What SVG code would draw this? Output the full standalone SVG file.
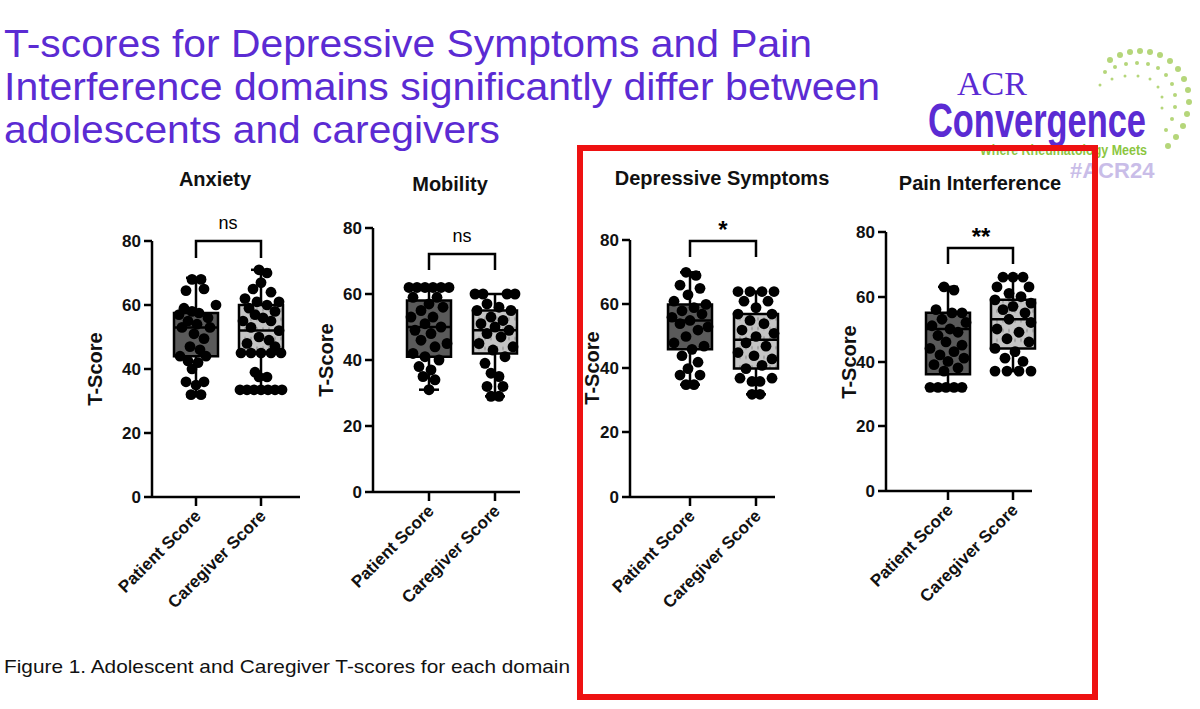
<svg xmlns="http://www.w3.org/2000/svg" width="1200" height="709" viewBox="0 0 1200 709">
<style>
.t{font-family:"Liberation Sans",Arial,sans-serif;font-weight:bold;fill:#111}
.tk{font-size:17px;text-anchor:end}
.ct{font-size:20px;text-anchor:middle}
.yl{font-size:20px;text-anchor:middle}
.xl{font-size:17px;text-anchor:end}
.ax{stroke:#000;stroke-width:2.5;fill:none}
.bx line,.bx rect{vector-effect:non-scaling-stroke;stroke:#000;stroke-width:2.5}
.p rect{fill:#5a5a5a}
.c rect{fill:url(#dots)}
.bx ellipse{fill:#000;rx:5.4px;ry:1.67px}
.title{font-family:"Liberation Sans",Arial,sans-serif;font-size:38px;fill:#5b2bd3}
</style>
<defs>
<pattern id="dots" width="6" height="3" patternUnits="userSpaceOnUse"><rect width="6" height="3" fill="#c4c4c4"/><circle cx="2" cy="1.5" r="0.6" fill="#888"/></pattern>
</defs>
<rect width="1200" height="709" fill="#fff"/>
<g id="title">
<text class="title" x="4" y="57" textLength="808" lengthAdjust="spacingAndGlyphs">T-scores for Depressive Symptoms and Pain</text>
<text class="title" x="4" y="100" textLength="876" lengthAdjust="spacingAndGlyphs">Interference domains significantly differ between</text>
<text class="title" x="4" y="143" textLength="496" lengthAdjust="spacingAndGlyphs">adolescents and caregivers</text>
</g>
<g id="logo">
<g fill="#b5d67a">
<circle cx="1110" cy="60" r="3"/><circle cx="1120" cy="55" r="3"/><circle cx="1130" cy="52" r="3"/><circle cx="1140" cy="51" r="3"/><circle cx="1150" cy="52" r="3"/><circle cx="1160" cy="55" r="3"/><circle cx="1170" cy="61" r="3"/><circle cx="1178" cy="69" r="3"/><circle cx="1184" cy="79" r="3"/><circle cx="1188" cy="90" r="3"/><circle cx="1189" cy="102" r="3"/><circle cx="1187" cy="114" r="3"/><circle cx="1183" cy="126" r="3"/><circle cx="1176" cy="137" r="3"/><circle cx="1168" cy="146" r="3"/>
<circle cx="1105" cy="72" r="2"/><circle cx="1115" cy="67" r="2"/><circle cx="1126" cy="64" r="2"/><circle cx="1137" cy="63" r="2"/><circle cx="1148" cy="64" r="2"/><circle cx="1158" cy="68" r="2"/><circle cx="1166" cy="75" r="2"/><circle cx="1172" cy="84" r="2"/><circle cx="1175" cy="95" r="2"/><circle cx="1175" cy="107" r="2"/><circle cx="1172" cy="119" r="2"/><circle cx="1166" cy="130" r="2"/>
<circle cx="1100" cy="85" r="1.5"/><circle cx="1112" cy="79" r="1.5"/><circle cx="1125" cy="76" r="1.5"/><circle cx="1138" cy="76" r="1.5"/><circle cx="1150" cy="79" r="1.5"/><circle cx="1158" cy="87" r="1.5"/><circle cx="1162" cy="97" r="1.5"/><circle cx="1162" cy="108" r="1.5"/>
</g>
<text x="957" y="95" font-family="Liberation Serif,serif" font-size="34" fill="#5b2bd3">ACR</text>
<text x="928" y="137" font-family="Liberation Sans Narrow,Liberation Sans,sans-serif" font-weight="bold" font-size="48" fill="#5b2bd3" textLength="218" lengthAdjust="spacingAndGlyphs">Convergence</text>
<text x="980" y="155" font-family="Liberation Sans,sans-serif" font-weight="bold" font-size="14" fill="#8cc63f" textLength="167" lengthAdjust="spacingAndGlyphs">Where Rheumatology Meets</text>
<text x="1070" y="178" font-family="Liberation Sans,sans-serif" font-weight="bold" font-size="22" fill="#c9bde8">#ACR24</text>
</g>
<rect id="highlight" x="580" y="148" width="515" height="549" fill="none" stroke="#ee1111" stroke-width="6"/>

<g id="chart-anxiety">
<text class="t ct" x="215" y="186">Anxiety</text>
<path class="ax" d="M152,241 V497 H300 M144,241 H152 M144,305 H152 M144,369 H152 M144,433 H152 M144,497 H152 M196,497 V506 M261,497 V506"/>
<g class="t tk"><text x="141" y="247">80</text><text x="141" y="311">60</text><text x="141" y="375">40</text><text x="141" y="439">20</text><text x="141" y="503">0</text></g>
<text class="t yl" transform="translate(102,369) rotate(-90)">T-Score</text>
<path class="ax" d="M196,258 V241 H261 V258" stroke-width="2"/>
<text x="228" y="229" font-family="Liberation Sans,sans-serif" font-size="18" text-anchor="middle">ns</text>
<g class="bx p" transform="translate(196,497) scale(1,-3.2)">
<line x1="0" x2="0" y1="31.5" y2="68.5"/><line x1="-10" x2="10" y1="31.5" y2="31.5"/><line x1="-10" x2="10" y1="68.5" y2="68.5"/>
<rect x="-22" y="44" width="44" height="13.5"/><line x1="-22" x2="22" y1="53" y2="53"/>
<ellipse cx="-4" cy="68"/><ellipse cx="5" cy="68"/><ellipse cx="-10" cy="64.5"/><ellipse cx="8" cy="65"/><ellipse cx="20" cy="60"/><ellipse cx="-12" cy="59"/><ellipse cx="-4" cy="58"/><ellipse cx="3" cy="57.5"/><ellipse cx="-17" cy="57"/><ellipse cx="12" cy="56"/><ellipse cx="-8" cy="55"/><ellipse cx="1" cy="54"/><ellipse cx="-14" cy="53"/><ellipse cx="14" cy="53"/><ellipse cx="-2" cy="51"/><ellipse cx="8" cy="49.5"/><ellipse cx="-6" cy="47"/><ellipse cx="4" cy="46"/><ellipse cx="-16" cy="44"/><ellipse cx="10" cy="44"/><ellipse cx="-8" cy="42.5"/><ellipse cx="2" cy="42"/><ellipse cx="-4" cy="40"/><ellipse cx="-10" cy="36"/><ellipse cx="8" cy="36"/><ellipse cx="0" cy="35"/><ellipse cx="-5" cy="32"/><ellipse cx="5" cy="32"/>
</g>
<g class="bx c" transform="translate(261,497) scale(1,-3.2)">
<line x1="0" x2="0" y1="33.5" y2="71"/><line x1="-10" x2="10" y1="33.5" y2="33.5"/><line x1="-10" x2="10" y1="71" y2="71"/>
<rect x="-22" y="45" width="44" height="15"/><line x1="-22" x2="22" y1="52" y2="52"/>
<ellipse cx="-2" cy="71"/><ellipse cx="6" cy="70"/><ellipse cx="0" cy="67"/><ellipse cx="-8" cy="65"/><ellipse cx="10" cy="64"/><ellipse cx="-16" cy="62"/><ellipse cx="-4" cy="61"/><ellipse cx="18" cy="61"/><ellipse cx="6" cy="60"/><ellipse cx="-12" cy="59"/><ellipse cx="14" cy="58"/><ellipse cx="-6" cy="57"/><ellipse cx="2" cy="56"/><ellipse cx="-18" cy="55"/><ellipse cx="10" cy="55"/><ellipse cx="-10" cy="53"/><ellipse cx="18" cy="52"/><ellipse cx="-2" cy="50"/><ellipse cx="8" cy="49"/><ellipse cx="-14" cy="48"/><ellipse cx="14" cy="47"/><ellipse cx="-20" cy="45"/><ellipse cx="-10" cy="45"/><ellipse cx="0" cy="45"/><ellipse cx="10" cy="45"/><ellipse cx="20" cy="45"/><ellipse cx="-6" cy="39"/><ellipse cx="-2" cy="37.5"/><ellipse cx="6" cy="37.5"/><ellipse cx="-21" cy="33.5"/><ellipse cx="-14" cy="33.5"/><ellipse cx="-7" cy="33.5"/><ellipse cx="0" cy="33.5"/><ellipse cx="7" cy="33.5"/><ellipse cx="14" cy="33.5"/><ellipse cx="21" cy="33.5"/>
</g>
<text class="t xl" transform="translate(202,517) rotate(-45)">Patient Score</text>
<text class="t xl" transform="translate(267,517) rotate(-45)">Caregiver Score</text>
</g>

<g id="chart-mobility">
<text class="t ct" x="450" y="191">Mobility</text>
<path class="ax" d="M373,228 V492 H520 M365,228 H373 M365,294 H373 M365,360 H373 M365,426 H373 M365,492 H373 M429,492 V501 M495,492 V501"/>
<g class="t tk"><text x="362" y="234">80</text><text x="362" y="300">60</text><text x="362" y="366">40</text><text x="362" y="432">20</text><text x="362" y="498">0</text></g>
<text class="t yl" transform="translate(333,360) rotate(-90)">T-Score</text>
<path class="ax" d="M429,270 V254 H495 V270" stroke-width="2"/>
<text x="462" y="242" font-family="Liberation Sans,sans-serif" font-size="18" text-anchor="middle">ns</text>
<g class="bx p" transform="translate(429,492) scale(1,-3.3)">
<line x1="0" x2="0" y1="31" y2="62"/><line x1="-10" x2="10" y1="31" y2="31"/><line x1="-10" x2="10" y1="62" y2="62"/>
<rect x="-22" y="41" width="44" height="17"/><line x1="-22" x2="22" y1="50" y2="50"/>
<ellipse cx="-20" cy="62"/><ellipse cx="-12" cy="62"/><ellipse cx="-4" cy="62"/><ellipse cx="4" cy="62"/><ellipse cx="12" cy="62"/><ellipse cx="20" cy="62"/><ellipse cx="-16" cy="59"/><ellipse cx="8" cy="59"/><ellipse cx="0" cy="57"/><ellipse cx="14" cy="56"/><ellipse cx="-8" cy="55"/><ellipse cx="-18" cy="53"/><ellipse cx="4" cy="53"/><ellipse cx="-4" cy="51"/><ellipse cx="12" cy="50"/><ellipse cx="-14" cy="49"/><ellipse cx="2" cy="48"/><ellipse cx="-8" cy="46"/><ellipse cx="18" cy="45"/><ellipse cx="6" cy="44"/><ellipse cx="-16" cy="42"/><ellipse cx="-4" cy="41"/><ellipse cx="10" cy="40"/><ellipse cx="-10" cy="38"/><ellipse cx="2" cy="37"/><ellipse cx="-6" cy="35"/><ellipse cx="6" cy="34"/><ellipse cx="0" cy="31"/>
</g>
<g class="bx c" transform="translate(495,492) scale(1,-3.3)">
<line x1="0" x2="0" y1="29" y2="60"/><line x1="-10" x2="10" y1="29" y2="29"/><line x1="-10" x2="10" y1="60" y2="60"/>
<rect x="-22" y="42" width="44" height="13"/><line x1="-22" x2="22" y1="49" y2="49"/>
<ellipse cx="-20" cy="60"/><ellipse cx="-12" cy="60"/><ellipse cx="12" cy="60"/><ellipse cx="20" cy="60"/><ellipse cx="-8" cy="57"/><ellipse cx="4" cy="56"/><ellipse cx="-18" cy="55"/><ellipse cx="16" cy="55"/><ellipse cx="-4" cy="53"/><ellipse cx="8" cy="52"/><ellipse cx="-14" cy="51"/><ellipse cx="0" cy="50"/><ellipse cx="14" cy="49"/><ellipse cx="-8" cy="48"/><ellipse cx="6" cy="47"/><ellipse cx="-16" cy="45"/><ellipse cx="18" cy="44"/><ellipse cx="-2" cy="43"/><ellipse cx="10" cy="41"/><ellipse cx="-10" cy="39"/><ellipse cx="-4" cy="36"/><ellipse cx="4" cy="35"/><ellipse cx="-8" cy="32"/><ellipse cx="8" cy="32"/><ellipse cx="-4" cy="29"/><ellipse cx="4" cy="29"/>
</g>
<text class="t xl" transform="translate(435,512) rotate(-45)">Patient Score</text>
<text class="t xl" transform="translate(501,512) rotate(-45)">Caregiver Score</text>
</g>

<g id="chart-depressive">
<text class="t ct" x="722" y="185">Depressive Symptoms</text>
<path class="ax" d="M630,240 V497 H775 M622,240 H630 M622,304 H630 M622,368 H630 M622,432 H630 M622,497 H630 M690,497 V506 M756,497 V506"/>
<g class="t tk"><text x="619" y="246">80</text><text x="619" y="310">60</text><text x="619" y="374">40</text><text x="619" y="438">20</text><text x="619" y="503">0</text></g>
<text class="t yl" transform="translate(599,368) rotate(-90)">T-Score</text>
<path class="ax" d="M690,257 V241 H756 V257" stroke-width="2"/>
<text x="723" y="238" font-family="Liberation Sans,sans-serif" font-size="24" font-weight="bold" text-anchor="middle">*</text>
<g class="bx p" transform="translate(690,497) scale(1,-3.21)">
<line x1="0" x2="0" y1="35" y2="70"/><line x1="-10" x2="10" y1="35" y2="35"/><line x1="-10" x2="10" y1="70" y2="70"/>
<rect x="-22" y="46" width="44" height="14"/><line x1="-22" x2="22" y1="55" y2="55"/>
<ellipse cx="-4" cy="70"/><ellipse cx="6" cy="69"/><ellipse cx="-10" cy="66"/><ellipse cx="10" cy="65"/><ellipse cx="-2" cy="63"/><ellipse cx="-16" cy="61"/><ellipse cx="16" cy="60"/><ellipse cx="4" cy="59"/><ellipse cx="-8" cy="58"/><ellipse cx="12" cy="57"/><ellipse cx="-18" cy="56"/><ellipse cx="0" cy="55"/><ellipse cx="-10" cy="54"/><ellipse cx="18" cy="53"/><ellipse cx="8" cy="52"/><ellipse cx="-4" cy="50"/><ellipse cx="-16" cy="48"/><ellipse cx="14" cy="47"/><ellipse cx="2" cy="46"/><ellipse cx="-8" cy="44"/><ellipse cx="8" cy="42"/><ellipse cx="-2" cy="40"/><ellipse cx="-10" cy="38"/><ellipse cx="10" cy="38"/><ellipse cx="-4" cy="35"/><ellipse cx="4" cy="35"/>
</g>
<g class="bx c" transform="translate(756,497) scale(1,-3.21)">
<line x1="0" x2="0" y1="32" y2="64"/><line x1="-10" x2="10" y1="32" y2="32"/><line x1="-10" x2="10" y1="64" y2="64"/>
<rect x="-22" y="40" width="44" height="17"/><line x1="-22" x2="22" y1="49" y2="49"/>
<ellipse cx="-18" cy="64"/><ellipse cx="-6" cy="64"/><ellipse cx="6" cy="64"/><ellipse cx="18" cy="64"/><ellipse cx="-12" cy="61"/><ellipse cx="12" cy="61"/><ellipse cx="0" cy="59"/><ellipse cx="-18" cy="57"/><ellipse cx="16" cy="57"/><ellipse cx="-6" cy="55"/><ellipse cx="8" cy="54"/><ellipse cx="-14" cy="52"/><ellipse cx="18" cy="51"/><ellipse cx="0" cy="50"/><ellipse cx="-10" cy="48"/><ellipse cx="10" cy="47"/><ellipse cx="-18" cy="45"/><ellipse cx="-2" cy="44"/><ellipse cx="16" cy="43"/><ellipse cx="6" cy="41"/><ellipse cx="-10" cy="40"/><ellipse cx="-16" cy="37"/><ellipse cx="16" cy="37"/><ellipse cx="-4" cy="36"/><ellipse cx="4" cy="36"/><ellipse cx="-4" cy="32"/><ellipse cx="4" cy="32"/>
</g>
<text class="t xl" transform="translate(696,517) rotate(-45)">Patient Score</text>
<text class="t xl" transform="translate(762,517) rotate(-45)">Caregiver Score</text>
</g>

<g id="chart-pain">
<text class="t ct" x="980" y="190">Pain Interference</text>
<path class="ax" d="M886,232 V491 H1032 M878,232 H886 M878,297 H886 M878,362 H886 M878,426 H886 M878,491 H886 M948,491 V500 M1013,491 V500"/>
<g class="t tk"><text x="875" y="238">80</text><text x="875" y="303">60</text><text x="875" y="368">40</text><text x="875" y="432">20</text><text x="875" y="497">0</text></g>
<text class="t yl" transform="translate(856,362) rotate(-90)">T-Score</text>
<path class="ax" d="M948,264 V248 H1013 V264" stroke-width="2"/>
<text x="981" y="245" font-family="Liberation Sans,sans-serif" font-size="24" font-weight="bold" text-anchor="middle">**</text>
<g class="bx p" transform="translate(948,491) scale(1,-3.24)">
<line x1="0" x2="0" y1="32" y2="63"/><line x1="-10" x2="10" y1="32" y2="32"/><line x1="-10" x2="10" y1="63" y2="63"/>
<rect x="-22" y="36" width="44" height="19"/><line x1="-22" x2="22" y1="50" y2="50"/>
<ellipse cx="-4" cy="63"/><ellipse cx="6" cy="62"/><ellipse cx="-12" cy="56"/><ellipse cx="4" cy="55"/><ellipse cx="14" cy="55"/><ellipse cx="-6" cy="53"/><ellipse cx="18" cy="52"/><ellipse cx="-16" cy="51"/><ellipse cx="2" cy="50"/><ellipse cx="10" cy="49"/><ellipse cx="-10" cy="48"/><ellipse cx="-2" cy="46"/><ellipse cx="14" cy="45"/><ellipse cx="-18" cy="44"/><ellipse cx="6" cy="43"/><ellipse cx="-8" cy="42"/><ellipse cx="16" cy="41"/><ellipse cx="0" cy="40"/><ellipse cx="-14" cy="39"/><ellipse cx="10" cy="38"/><ellipse cx="-4" cy="37"/><ellipse cx="-18" cy="32"/><ellipse cx="-10" cy="32"/><ellipse cx="-2" cy="32"/><ellipse cx="6" cy="32"/><ellipse cx="14" cy="32"/>
</g>
<g class="bx c" transform="translate(1013,491) scale(1,-3.24)">
<line x1="0" x2="0" y1="37" y2="66"/><line x1="-10" x2="10" y1="37" y2="37"/><line x1="-10" x2="10" y1="66" y2="66"/>
<rect x="-22" y="44" width="44" height="15"/><line x1="-22" x2="22" y1="53" y2="53"/>
<ellipse cx="-10" cy="66"/><ellipse cx="0" cy="66"/><ellipse cx="10" cy="66"/><ellipse cx="-16" cy="63"/><ellipse cx="16" cy="63"/><ellipse cx="-4" cy="61"/><ellipse cx="8" cy="60"/><ellipse cx="-18" cy="59"/><ellipse cx="18" cy="58"/><ellipse cx="0" cy="57"/><ellipse cx="-10" cy="56"/><ellipse cx="12" cy="55"/><ellipse cx="-4" cy="53"/><ellipse cx="18" cy="52"/><ellipse cx="-16" cy="50"/><ellipse cx="6" cy="49"/><ellipse cx="-6" cy="47"/><ellipse cx="16" cy="46"/><ellipse cx="-18" cy="44"/><ellipse cx="2" cy="43"/><ellipse cx="-8" cy="41"/><ellipse cx="10" cy="40"/><ellipse cx="-18" cy="37"/><ellipse cx="-6" cy="37"/><ellipse cx="6" cy="37"/><ellipse cx="18" cy="37"/>
</g>
<text class="t xl" transform="translate(954,511) rotate(-45)">Patient Score</text>
<text class="t xl" transform="translate(1019,511) rotate(-45)">Caregiver Score</text>
</g>

<text id="caption" x="4" y="673" font-family="Liberation Sans,Arial,sans-serif" font-size="19" fill="#111" textLength="566" lengthAdjust="spacingAndGlyphs">Figure 1. Adolescent and Caregiver T-scores for each domain</text>
</svg>
